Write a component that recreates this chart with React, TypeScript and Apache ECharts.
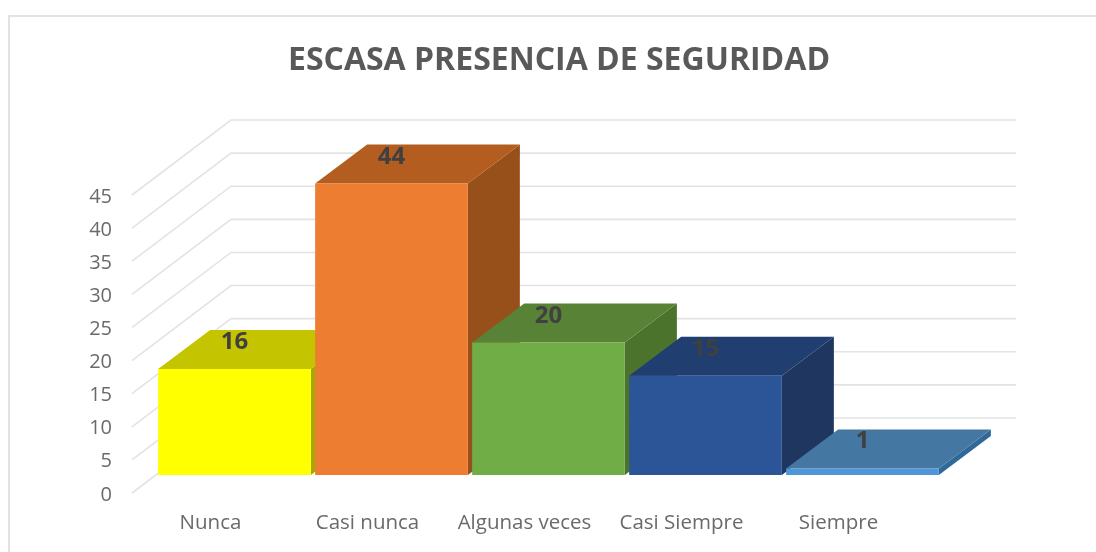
import React, { useEffect, useRef } from "react";
import * as echarts from "echarts";

const TITLE = "ESCASA PRESENCIA DE SEGURIDAD";
const categories = ["Nunca", "Casi nunca", "Algunas veces", "Casi Siempre", "Siempre"];
const values = [16, 44, 20, 15, 1];
const wallTicks = [0, 5, 10, 15, 20, 25, 30, 35, 40, 45];
const frontColors = ["#ffff00", "#ed7d31", "#70ad47", "#2c5597", "#4f96d8"];
const topColors = ["#c4c400", "#b35e20", "#588235", "#203e70", "#4478a2"];
const sideColors = ["#a8a800", "#97501a", "#4b732c", "#1e3660", "#2f699a"];

const WALL_DX = 99;
const WALL_DY = -75;
const BAR_DX = 24;
const BAR_DY = -18;
const DEPTH_X = 52;
const DEPTH_Y = -39;
const BAR_W = 152.7;
const FONT = "'Open Sans', sans-serif";

export default function App() {
  const ref = useRef<HTMLDivElement>(null);
  useEffect(() => {
    const chart = echarts.init(ref.current!, undefined, { renderer: "svg" });
    chart.setOption({
      animation: false,
      backgroundColor: "#ffffff",
      title: {
        text: TITLE,
        left: 559,
        top: 41,
        padding: 0,
        textAlign: "center",
        textStyle: { fontFamily: FONT, fontWeight: 700, fontSize: 32, color: "#595959" },
      },
      grid: { left: 132, top: 195, width: 785, height: 298, containLabel: false },
      xAxis: {
        type: "category",
        data: categories,
        axisLine: { show: false },
        axisTick: { show: false },
        axisLabel: { fontFamily: FONT, fontSize: 20.5, color: "#6a6a6a", margin: 17, interval: 0 },
      },
      yAxis: {
        type: "value",
        min: 0,
        max: 45,
        interval: 5,
        axisLine: { show: false },
        axisTick: { show: false },
        splitLine: { show: false },
        axisLabel: { fontFamily: FONT, fontSize: 20, color: "#6a6a6a", margin: 20 },
      },
      graphic: [
        {
          type: "rect",
          silent: true,
          z: -1,
          shape: { x: 9, y: 16, width: 1200, height: 700 },
          style: { fill: "none", stroke: "#e2e2e2", lineWidth: 2 },
        },
      ],
      series: [
        {
          type: "custom",
          coordinateSystem: "cartesian2d",
          z: 1,
          silent: true,
          data: wallTicks.map((t) => [0, t]),
          renderItem: (params: any, api: any) => {
            const p = api.coord([0, api.value(1)]);
            const cs = params.coordSys;
            const x0 = cs.x;
            const y = p[1];
            return {
              type: "polyline",
              shape: {
                points: [
                  [x0, y],
                  [x0 + WALL_DX, y + WALL_DY],
                  [x0 + cs.width + WALL_DX, y + WALL_DY],
                ],
              },
              style: { fill: "none", stroke: "#e3e3e3", lineWidth: 1.6 },
            };
          },
        },
        {
          type: "custom",
          coordinateSystem: "cartesian2d",
          z: 2,
          silent: true,
          data: values.map((v, i) => [i, v]),
          renderItem: (_params: any, api: any) => {
            const i = api.value(0);
            const v = api.value(1);
            const top = api.coord([i, v]);
            const base = api.coord([i, 0]);
            const xl = top[0] + BAR_DX - BAR_W / 2;
            const xr = xl + BAR_W;
            const yt = top[1] + BAR_DY;
            const yb = base[1] + BAR_DY;
            return {
              type: "group",
              children: [
                {
                  type: "polygon",
                  shape: { points: [[xr, yt], [xr + DEPTH_X, yt + DEPTH_Y], [xr + DEPTH_X, yb + DEPTH_Y], [xr, yb]] },
                  style: { fill: sideColors[i] },
                },
                {
                  type: "polygon",
                  shape: { points: [[xl, yt], [xl + DEPTH_X, yt + DEPTH_Y], [xr + DEPTH_X, yt + DEPTH_Y], [xr, yt]] },
                  style: { fill: topColors[i] },
                },
                {
                  type: "rect",
                  shape: { x: xl, y: yt, width: BAR_W, height: yb - yt },
                  style: { fill: frontColors[i] },
                },
              ],
            };
          },
        },
        {
          type: "custom",
          coordinateSystem: "cartesian2d",
          z: 3,
          silent: true,
          data: values.map((v, i) => [i, v]),
          renderItem: (_params: any, api: any) => {
            const i = api.value(0);
            const v = api.value(1);
            const top = api.coord([i, v]);
            return {
              type: "text",
              style: {
                x: top[0] + BAR_DX,
                y: top[1] + BAR_DY - 29.5,
                text: String(v),
                align: "center",
                verticalAlign: "middle",
                fontFamily: FONT,
                fontWeight: 700,
                fontSize: 24,
                fill: "#404040",
              },
            };
          },
        },
      ],
    });
    return () => chart.dispose();
  }, []);
  return <div ref={ref} style={{ position: "fixed", left: 0, top: 0, width: 1096, height: 552, filter: "blur(0.5px)" }} />;
}
